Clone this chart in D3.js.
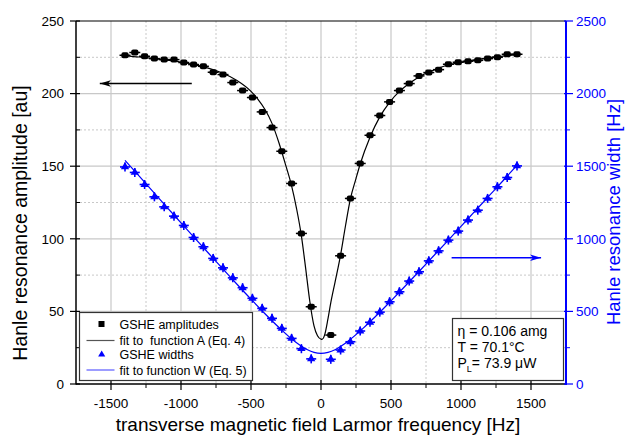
<!DOCTYPE html>
<html>
<head>
<meta charset="utf-8">
<script src="https://cdn.jsdelivr.net/npm/d3@7/dist/d3.min.js"></script>
<style>
  html, body { margin: 0; padding: 0; background: #fff; }
  svg { display: block; font-family: "Liberation Sans", Arial, sans-serif; }
</style>
</head>
<body>
<svg id="chart" width="626" height="436"></svg>
<script>
// Larmor frequency of each measurement [Hz]
const frequency = [
  -1400, -1330, -1260, -1190, -1120, -1050, -980, -910, -840, -770,
  -700, -630, -560, -490, -420, -350, -280, -210, -140, -70,
  70, 140, 210, 280, 350, 420, 490, 560, 630, 700,
  770, 840, 910, 980, 1050, 1120, 1190, 1260, 1330, 1400
];
// GSHE resonance amplitudes [au]
const amplitude = [
  226.4, 228.3, 225.7, 224.1, 223.4, 223.4, 221.4, 220.0, 218.8, 214.7,
  213.1, 207.6, 202.1, 197.3, 187.4, 176.6, 160.3, 138.1, 103.7, 53.2,
  33.7, 88.3, 127.8, 151.9, 171.3, 184.9, 194.3, 202.1, 206.9, 212.2,
  214.5, 216.5, 220.2, 221.6, 222.3, 222.9, 224.1, 225.0, 227.1, 227.1
];
// GSHE resonance widths [Hz]
const resWidth = [
  1495, 1457, 1374, 1289, 1220, 1156, 1092, 1009, 945, 865,
  800, 731, 663, 590, 521, 452, 383, 314, 243, 173,
  170, 234, 291, 365, 425, 495, 566, 635, 709, 773,
  848, 917, 991, 1053, 1129, 1197, 1278, 1358, 1422, 1502
];

// fitted curve A (Eq. 4), sampled
const fitAFreq = [
  -1400, -1300, -1200, -1100, -1000, -900, -800, -700, -600, -500,
  -450, -400, -350, -300, -250, -210, -175, -140, -110, -80,
  -50, -25, 0, 7, 25, 50, 70, 100, 140, 175,
  210, 250, 280, 350, 420, 490, 560, 630, 700, 800,
  900, 1000, 1100, 1200, 1300, 1400
];
const fitAValue = [
  226.0, 225.2, 224.2, 223.0, 221.6, 219.8, 217.4, 214.0, 209.0, 201.5,
  196.0, 189.0, 179.5, 166.0, 150.0, 136.5, 121.0, 102.0, 80.0, 57.0,
  40.0, 33.2, 30.9, 30.8, 33.5, 45.0, 56.0, 70.0, 89.0, 109.0,
  127.5, 141.5, 151.5, 170.0, 184.0, 194.0, 201.5, 207.0, 211.5, 216.0,
  219.5, 221.5, 223.3, 224.8, 225.8, 226.8
];
// fitted curve W (Eq. 5), sampled
const fitWFreq = [
  -1400, -1300, -1200, -1100, -1000, -900, -800, -700, -600, -500,
  -400, -300, -200, -150, -100, -50, 0, 50, 100, 150,
  200, 300, 400, 500, 600, 700, 800, 900, 1000, 1100,
  1200, 1300, 1400
];
const fitWValue = [
  1540, 1433, 1325, 1217, 1110, 1003, 897, 792, 687, 584,
  484, 389, 303, 267, 238, 218, 211, 218, 236, 265,
  300, 383, 475, 573, 673, 775, 878, 981, 1086, 1190,
  1295, 1400, 1506
];

const xMajorTicks = [-1500, -1000, -500, 0, 500, 1000, 1500];
const xMinorTicks = [-1250, -750, -250, 250, 750, 1250];
const yMajorTicks = [0, 50, 100, 150, 200, 250];
const yMinorTicks = [25, 75, 125, 175, 225];
const y2MajorTicks = [0, 500, 1000, 1500, 2000, 2500];
const y2MinorTicks = [250, 750, 1250, 1750, 2250];

const legendLabels = ["GSHE amplitudes", "fit to  function A (Eq. 4)", "GSHE widths", "fit to function W (Eq. 5)"];
const infoLines = ["\u03b7 = 0.106 amg", "T = 70.1\u00b0C"];

const BLUE = "#0000ff";
const GRID = "#c8c8c8";

const svg = d3.select("#chart");
const xL = 76, xR = 566, yT = 21, yB = 384;

const x = d3.scaleLinear().domain([-1750, 1750]).range([xL, xR]);
const y = d3.scaleLinear().domain([0, 250]).range([yB, yT]);
const y2 = d3.scaleLinear().domain([0, 2500]).range([yB, yT]);

// grid
const grid = svg.append("g");
grid.selectAll(".vmaj").data(xMajorTicks).join("line")
  .attr("x1", d => x(d)).attr("x2", d => x(d)).attr("y1", yT).attr("y2", yB)
  .attr("stroke", GRID).attr("stroke-width", 1.2);
grid.selectAll(".vmin").data(xMinorTicks).join("line")
  .attr("x1", d => x(d)).attr("x2", d => x(d)).attr("y1", yT).attr("y2", yB)
  .attr("stroke", GRID).attr("stroke-width", 1).attr("stroke-dasharray", "2,2");
grid.selectAll(".hmaj").data(yMajorTicks.filter(d => d > 0 && d < 250)).join("line")
  .attr("x1", xL).attr("x2", xR).attr("y1", d => y(d)).attr("y2", d => y(d))
  .attr("stroke", GRID).attr("stroke-width", 1.2);
grid.selectAll(".hmin").data(yMinorTicks).join("line")
  .attr("x1", xL).attr("x2", xR).attr("y1", d => y(d)).attr("y2", d => y(d))
  .attr("stroke", GRID).attr("stroke-width", 1).attr("stroke-dasharray", "2,2");

// frame along the top
svg.append("line").attr("x1", xL).attr("x2", xR).attr("y1", yT).attr("y2", yT)
  .attr("stroke", "#000").attr("stroke-width", 1.2);

// fit curves
svg.append("path")
  .datum(d3.zip(fitWFreq, fitWValue))
  .attr("fill", "none").attr("stroke", BLUE).attr("stroke-width", 1.2)
  .attr("d", d3.line().x(d => x(d[0])).y(d => y2(d[1])).curve(d3.curveMonotoneX));
svg.append("path")
  .datum(d3.zip(fitAFreq, fitAValue))
  .attr("fill", "none").attr("stroke", "#000").attr("stroke-width", 1.2)
  .attr("d", d3.line().x(d => x(d[0])).y(d => y(d[1])).curve(d3.curveMonotoneX));

// width markers: triangles with error bars
const wPts = svg.append("g").selectAll("g").data(d3.zip(frequency, resWidth)).join("g")
  .attr("transform", d => `translate(${x(d[0])},${y2(d[1])})`);
wPts.append("line").attr("x1", -5).attr("x2", 5).attr("stroke", BLUE).attr("stroke-width", 1.6);
wPts.append("line").attr("y1", -4.5).attr("y2", 4.5).attr("stroke", BLUE).attr("stroke-width", 1.6);
wPts.append("path").attr("d", d3.symbol(d3.symbolTriangle, 30)).attr("fill", BLUE);

// amplitude markers with error bars
const aPts = svg.append("g").selectAll("g").data(d3.zip(frequency, amplitude)).join("g")
  .attr("transform", d => `translate(${x(d[0])},${y(d[1])})`);
aPts.append("line").attr("x1", -5.5).attr("x2", 5.5).attr("stroke", "#000").attr("stroke-width", 1.5);
aPts.append("rect").attr("x", -3.6).attr("y", -3).attr("width", 7.2).attr("height", 6).attr("rx", 2)
  .attr("fill", "#000");

// arrows showing which axis each series belongs to
svg.append("defs").call(defs => {
  defs.append("marker").attr("id", "headBlack").attr("viewBox", "0 0 10 6")
    .attr("refX", 10).attr("refY", 3).attr("markerUnits", "userSpaceOnUse")
    .attr("markerWidth", 11).attr("markerHeight", 7).attr("orient", "auto")
    .append("path").attr("d", "M0,0 L10,3 L0,6 L2.5,3 Z").attr("fill", "#000");
  defs.append("marker").attr("id", "headBlue").attr("viewBox", "0 0 10 6")
    .attr("refX", 10).attr("refY", 3).attr("markerUnits", "userSpaceOnUse")
    .attr("markerWidth", 11).attr("markerHeight", 7).attr("orient", "auto")
    .append("path").attr("d", "M0,0 L10,3 L0,6 L2.5,3 Z").attr("fill", BLUE);
});
svg.append("line")
  .attr("x1", x(-923)).attr("x2", x(-1580)).attr("y1", y(207)).attr("y2", y(207))
  .attr("stroke", "#000").attr("stroke-width", 1.5).attr("marker-end", "url(#headBlack)");
svg.append("line")
  .attr("x1", x(933)).attr("x2", x(1572)).attr("y1", y2(870)).attr("y2", y2(870))
  .attr("stroke", BLUE).attr("stroke-width", 1.5).attr("marker-end", "url(#headBlue)");

// axes
const ax = svg.append("g");
// left
ax.append("line").attr("x1", xL).attr("x2", xL).attr("y1", yT).attr("y2", yB + 0.5)
  .attr("stroke", "#000").attr("stroke-width", 1.5);
ax.selectAll(".ly").data(yMajorTicks).join("line")
  .attr("x1", xL - 6).attr("x2", xL + 4).attr("y1", d => y(d)).attr("y2", d => y(d))
  .attr("stroke", "#000").attr("stroke-width", 1.2);
ax.selectAll(".lym").data(yMinorTicks).join("line")
  .attr("x1", xL).attr("x2", xL + 4).attr("y1", d => y(d)).attr("y2", d => y(d))
  .attr("stroke", "#000").attr("stroke-width", 1);
ax.selectAll(".lyt").data(yMajorTicks).join("text")
  .attr("x", xL - 12).attr("y", d => y(d) + 4.7).attr("text-anchor", "end")
  .attr("font-size", 13.5).attr("fill", "#000").text(d => d);
// bottom
ax.append("line").attr("x1", xL).attr("x2", xR).attr("y1", yB).attr("y2", yB)
  .attr("stroke", "#000").attr("stroke-width", 1.5);
ax.selectAll(".bx").data(xMajorTicks).join("line")
  .attr("x1", d => x(d)).attr("x2", d => x(d)).attr("y1", yB - 4).attr("y2", yB + 6)
  .attr("stroke", "#000").attr("stroke-width", 1.2);
ax.selectAll(".bxm").data(xMinorTicks).join("line")
  .attr("x1", d => x(d)).attr("x2", d => x(d)).attr("y1", yB).attr("y2", yB + 4)
  .attr("stroke", "#000").attr("stroke-width", 1);
ax.selectAll(".bxt").data(xMajorTicks).join("text")
  .attr("x", d => x(d)).attr("y", yB + 24).attr("text-anchor", "middle")
  .attr("font-size", 13.5).attr("fill", "#000").text(d => d);
// right
ax.append("line").attr("x1", xR).attr("x2", xR).attr("y1", yT).attr("y2", yB + 1)
  .attr("stroke", BLUE).attr("stroke-width", 2);
ax.selectAll(".ry").data(y2MajorTicks).join("line")
  .attr("x1", xR - 2).attr("x2", xR + 7).attr("y1", d => y2(d)).attr("y2", d => y2(d))
  .attr("stroke", BLUE).attr("stroke-width", 1.2);
ax.selectAll(".rym").data(y2MinorTicks).join("line")
  .attr("x1", xR).attr("x2", xR + 4).attr("y1", d => y2(d)).attr("y2", d => y2(d))
  .attr("stroke", BLUE).attr("stroke-width", 1);
ax.selectAll(".ryt").data(y2MajorTicks).join("text")
  .attr("x", xR + 10).attr("y", d => y2(d) + 4.7).attr("text-anchor", "start")
  .attr("font-size", 13.5).attr("fill", BLUE).text(d => d);

// axis titles
svg.append("text").attr("transform", "translate(27,223) rotate(-90)")
  .attr("text-anchor", "middle").attr("font-size", 19.5).attr("fill", "#000")
  .text("Hanle resonance amplitude [au]");
svg.append("text").attr("transform", "translate(620,212) rotate(-90)")
  .attr("text-anchor", "middle").attr("font-size", 18.5).attr("fill", BLUE)
  .text("Hanle resonance width [Hz]");
svg.append("text").attr("x", 318).attr("y", 431)
  .attr("text-anchor", "middle").attr("font-size", 19).attr("fill", "#000")
  .text("transverse magnetic field Larmor frequency [Hz]");

// legend
const lg = svg.append("g");
lg.append("rect").attr("x", 79.5).attr("y", 312.5).attr("width", 173).attr("height", 68)
  .attr("fill", "#fff").attr("stroke", "#333").attr("stroke-width", 1.2);
const rowY = [324, 340.5, 354.5, 370];
lg.append("rect").attr("x", 98.5).attr("y", rowY[0] - 3).attr("width", 6).attr("height", 6).attr("fill", "#000");
lg.append("line").attr("x1", 86.5).attr("x2", 114.5).attr("y1", rowY[1]).attr("y2", rowY[1])
  .attr("stroke", "#555").attr("stroke-width", 1.2);
lg.append("path").attr("transform", `translate(101.7,${rowY[2]})`)
  .attr("d", d3.symbol(d3.symbolTriangle, 22)).attr("fill", BLUE);
lg.append("line").attr("x1", 86.5).attr("x2", 114.5).attr("y1", rowY[3]).attr("y2", rowY[3])
  .attr("stroke", "#5a5aff").attr("stroke-width", 1.2);
lg.selectAll("text").data(legendLabels).join("text")
  .attr("x", 119.5).attr("y", (d, i) => rowY[i] + 4.5)
  .attr("font-size", 12.5).attr("fill", "#000").style("white-space", "pre")
  .text(d => d);

// experimental conditions box
const info = svg.append("g");
info.append("rect").attr("x", 452.5).attr("y", 318.5).attr("width", 111).attr("height", 62)
  .attr("fill", "#fff").attr("stroke", "#333").attr("stroke-width", 1.2);
info.selectAll(".il").data(infoLines).join("text")
  .attr("x", 457.5).attr("y", (d, i) => 336 + i * 15.5)
  .attr("font-size", 14).attr("fill", "#000").text(d => d);
const powerLabel = info.append("text").attr("x", 457.5).attr("y", 368).attr("font-size", 14).attr("fill", "#000");
powerLabel.append("tspan").text("P");
powerLabel.append("tspan").attr("font-size", 9).attr("dy", 4).text("L");
powerLabel.append("tspan").attr("dy", -4).text("= 73.9 \u03bcW");
</script>
</body>
</html>
